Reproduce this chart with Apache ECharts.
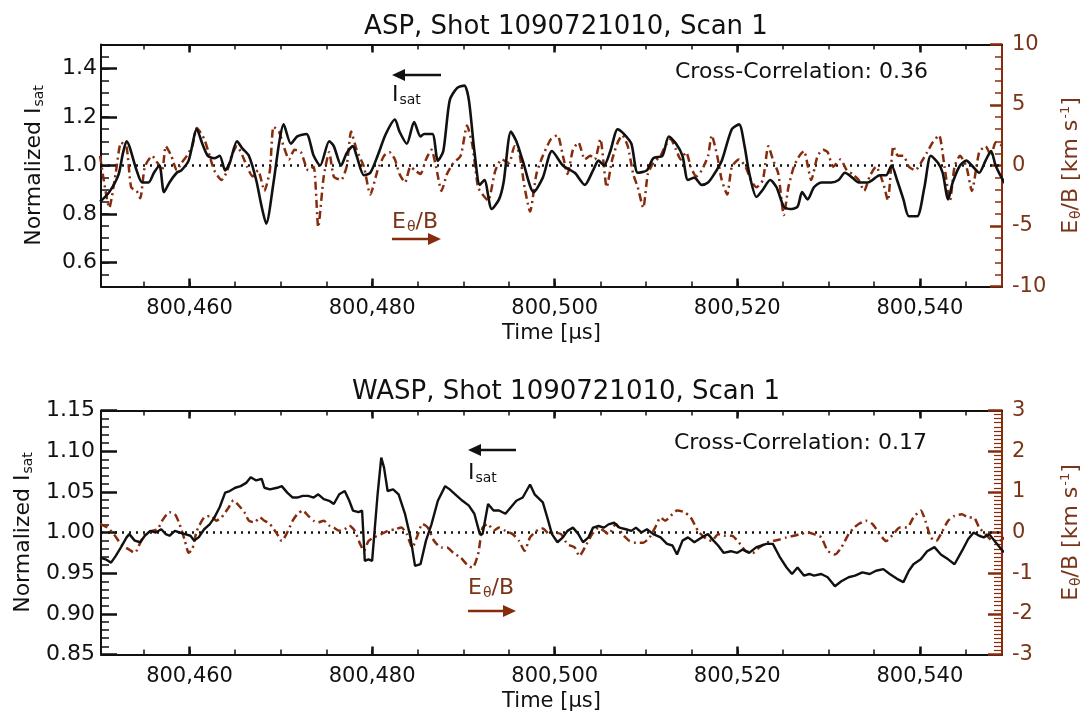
<!DOCTYPE html>
<html>
<head>
<meta charset="utf-8">
<script src="https://cdn.jsdelivr.net/npm/echarts@6/dist/echarts.min.js"></script>
<style>html,body{margin:0;padding:0;background:#fff}#c{width:1091px;height:719px}</style>
</head>
<body>
<div id="c"></div>
<script>
// ---------- DATA ----------
const titles = ['ASP, Shot 1090721010, Scan 1', 'WASP, Shot 1090721010, Scan 1'];
const crossCorr = ['Cross-Correlation: 0.36', 'Cross-Correlation: 0.17'];
const xRange = [800450.3, 800549.0];
const xTickLabels = [800460, 800480, 800500, 800520, 800540];
const xMinorTicks = [800455, 800460, 800465, 800470, 800475, 800480, 800485, 800490, 800495, 800500,
                     800505, 800510, 800515, 800520, 800525, 800530, 800535, 800540, 800545];
const aspLeftTickLabels = [0.6, 0.8, 1.0, 1.2, 1.4];
const refLevel = 1.0;

// ASP normalized Isat (black) [time us, value]
const aspIsat = [
[800450.2,0.85],[800451.2,0.89],[800452.2,0.96],[800452.7,1.05],[800453.1,1.10],[800454.2,0.98],[800454.8,0.93],[800455.5,0.93],
[800456.1,0.97],[800456.7,1.00],[800457.2,0.89],[800457.8,0.93],[800458.6,0.97],[800459.1,0.98],[800459.9,1.02],[800460.8,1.15],
[800461.4,1.09],[800462.0,1.04],[800462.7,1.03],[800463.3,1.04],[800463.9,0.98],[800464.4,1.01],[800465.2,1.10],[800465.8,1.07],
[800466.5,1.04],[800467.3,0.94],[800467.9,0.83],[800468.4,0.76],[800469.2,0.93],[800469.8,1.09],[800470.3,1.17],[800471.1,1.09],
[800471.8,1.12],[800472.8,1.13],[800473.6,1.04],[800474.3,1.00],[800475.3,1.10],[800475.8,1.08],[800476.6,1.00],[800477.2,1.05],
[800477.9,1.08],[800478.3,1.04],[800479.1,0.96],[800479.8,0.97],[800480.6,1.04],[800481.5,1.13],[800482.5,1.19],[800483.0,1.14],
[800483.8,1.09],[800484.6,1.18],[800485.3,1.12],[800485.7,1.13],[800486.6,1.13],[800487.2,1.02],[800487.8,1.06],[800488.5,1.27],
[800489.3,1.32],[800490.1,1.33],[800490.6,1.27],[800491.2,1.06],[800491.8,0.92],[800492.3,0.94],[800493.1,0.82],[800493.9,0.86],
[800494.4,0.93],[800495.2,1.14],[800495.8,1.10],[800496.5,1.02],[800497.7,0.89],[800498.7,0.95],[800499.7,1.06],[800500.9,1.00],
[800502.2,0.97],[800503.3,0.92],[800504.2,0.98],[800504.8,1.02],[800505.4,1.00],[800506.1,1.06],[800506.9,1.15],[800507.6,1.13],
[800508.4,1.09],[800509.1,0.97],[800510.1,0.98],[800510.8,1.03],[800511.8,1.04],[800512.5,1.12],[800513.3,1.09],[800514.0,1.04],
[800514.6,0.94],[800515.3,0.95],[800516.1,0.92],[800516.8,0.93],[800517.4,0.96],[800518.3,1.02],[800519.4,1.15],[800520.2,1.17],
[800520.8,1.08],[800521.3,0.97],[800522.1,0.87],[800522.8,0.90],[800523.6,0.94],[800524.3,0.91],[800525.1,0.83],[800525.8,0.82],
[800526.6,0.83],[800527.1,0.89],[800527.7,0.86],[800528.4,0.91],[800529.2,0.93],[800530.3,0.93],[800531.1,0.94],[800531.8,0.97],
[800532.6,0.95],[800533.3,0.93],[800534.3,0.93],[800534.8,0.94],[800535.6,0.96],[800536.3,0.96],[800536.9,1.00],[800537.5,0.94],
[800538.2,0.86],[800538.8,0.79],[800539.7,0.79],[800540.5,0.91],[800541.2,1.04],[800542.0,1.01],[800542.5,0.97],[800543.1,0.86],
[800543.6,0.93],[800544.4,1.00],[800545.1,1.02],[800545.7,1.00],[800546.5,0.97],[800547.2,1.02],[800547.8,1.06],[800548.3,1.00],
[800549.1,0.94],[800549.8,0.90]
];

// ASP E_theta/B (brown, km/s)
const aspEB = [
[800450.2,0.8],[800450.6,-1.2],[800451.2,-3.5],[800451.9,-0.7],[800452.5,1.9],[800453.1,1.5],[800453.6,-1.8],[800454.2,-2.1],
[800454.6,-2.7],[800455.1,-0.1],[800455.9,0.8],[800456.5,0.2],[800457.0,-0.4],[800457.4,1.6],[800458.0,0.8],[800458.6,-0.4],
[800459.1,0.2],[800459.7,0.8],[800460.3,1.6],[800460.8,3.1],[800461.6,2.2],[800462.2,0.8],[800462.7,-0.4],[800463.5,-1.2],
[800464.1,-0.5],[800464.6,0.8],[800465.2,1.6],[800465.8,0.8],[800466.3,-0.1],[800466.9,-0.9],[800467.5,-0.4],[800468.2,-2.1],
[800468.8,-0.4],[800469.2,3.2],[800469.8,2.8],[800470.3,1.6],[800470.9,0.5],[800471.5,1.3],[800472.2,1.1],[800473.0,-0.4],
[800473.6,-0.1],[800474.1,-5.1],[800474.7,-0.9],[800475.3,1.1],[800475.8,-0.9],[800476.6,-1.2],[800477.2,-0.1],[800477.7,2.8],
[800478.3,1.3],[800479.1,-0.1],[800479.8,-2.4],[800480.6,-0.4],[800481.3,0.8],[800481.9,1.1],[800482.5,0.5],[800483.0,-0.7],
[800483.6,-1.4],[800484.2,-0.1],[800484.7,-0.4],[800485.3,-0.7],[800485.9,0.5],[800486.5,1.3],[800487.0,-0.1],[800487.6,-2.1],
[800488.2,-0.7],[800488.9,0.2],[800489.7,0.8],[800490.4,3.3],[800491.0,1.6],[800491.6,-1.8],[800492.1,-2.4],[800492.7,-2.9],
[800493.5,-0.4],[800494.2,0.5],[800495.0,0.2],[800495.6,1.6],[800496.1,1.1],[800496.7,-1.8],[800497.3,-3.8],[800498.0,-0.7],
[800498.7,0.8],[800499.6,2.2],[800500.3,2.5],[800500.9,0.8],[800501.4,-0.7],[800502.0,1.3],[800502.6,1.9],[800503.3,0.5],
[800503.9,0.8],[800504.4,0.5],[800505.0,2.2],[800505.7,-1.8],[800506.3,0.5],[800506.9,1.9],[800507.4,2.5],[800508.0,1.6],
[800508.6,-0.7],[800509.1,-1.8],[800509.7,-3.5],[800510.2,-0.7],[800510.8,0.2],[800511.6,0.8],[800512.1,1.6],[800512.7,2.2],
[800513.3,1.3],[800513.8,0.5],[800514.4,1.1],[800514.9,-0.1],[800515.5,-0.9],[800516.1,-0.4],[800516.8,0.8],[800517.2,2.5],
[800517.8,0.8],[800518.3,-1.2],[800518.9,-2.4],[800519.4,-0.1],[800520.2,0.5],[800520.9,-0.1],[800521.5,-1.2],[800522.1,-1.8],
[800522.8,-1.2],[800523.4,1.6],[800523.9,0.5],[800524.5,-0.7],[800525.1,-4.1],[800525.6,-1.8],[800526.2,-0.1],[800526.8,0.8],
[800527.3,1.2],[800528.1,-1.2],[800528.8,0.8],[800529.4,1.3],[800529.9,1.1],[800530.5,-0.1],[800531.3,0.5],[800532.0,-0.4],
[800532.6,-0.7],[800533.3,-1.2],[800533.9,-2.1],[800534.5,-0.9],[800535.2,-0.1],[800536.0,-1.5],[800536.5,-2.9],[800537.1,1.6],
[800537.6,0.8],[800538.2,0.8],[800538.8,-0.1],[800539.5,-0.4],[800540.1,0.2],[800540.8,1.1],[800541.4,1.9],[800542.1,2.5],
[800542.7,-0.1],[800543.3,-2.9],[800543.8,-0.1],[800544.4,0.8],[800545.1,-0.1],[800545.7,-2.1],[800546.5,1.1],[800547.2,1.6],
[800547.8,0.8],[800548.3,1.9],[800549.1,1.6],[800549.8,1.3]
];

// WASP normalized Isat (black)
const waspIsat = [
[800450.2,0.969],[800450.8,0.967],[800451.4,0.963],[800451.9,0.971],[800452.5,0.982],[800453.1,0.994],[800453.4,0.998],[800454.0,0.990],
[800454.6,0.988],[800455.1,0.996],[800455.7,1.002],[800456.3,1.000],[800456.9,1.004],[800457.4,0.998],[800457.8,0.996],[800458.4,1.002],
[800458.9,1.000],[800459.5,0.998],[800460.1,0.996],[800460.5,0.990],[800461.0,0.994],[800461.6,1.004],[800462.2,1.010],[800462.7,1.018],
[800463.3,1.031],[800463.9,1.049],[800464.4,1.051],[800465.0,1.055],[800465.6,1.057],[800466.2,1.061],[800466.7,1.068],[800467.3,1.064],
[800467.9,1.066],[800468.2,1.055],[800468.8,1.053],[800469.6,1.055],[800470.1,1.057],[800470.7,1.049],[800471.3,1.043],[800471.8,1.043],
[800472.4,1.045],[800473.0,1.045],[800473.6,1.043],[800474.1,1.047],[800474.7,1.041],[800475.3,1.039],[800475.8,1.035],[800476.4,1.047],
[800477.0,1.051],[800477.5,1.039],[800477.9,1.027],[800478.5,1.025],[800478.9,1.027],[800479.2,0.965],[800479.6,0.967],[800480.0,0.965],
[800480.6,1.047],[800481.0,1.092],[800481.3,1.080],[800481.7,1.051],[800482.3,1.053],[800482.9,1.047],[800483.6,1.023],[800484.2,0.994],
[800484.7,0.959],[800485.3,0.961],[800485.9,0.990],[800486.5,1.010],[800487.2,1.039],[800488.0,1.057],[800488.5,1.053],[800489.1,1.047],
[800489.9,1.039],[800490.6,1.033],[800491.2,1.023],[800491.8,0.998],[800492.1,0.998],[800492.7,1.035],[800493.3,1.027],[800493.9,1.027],
[800494.6,1.023],[800495.2,1.031],[800495.8,1.039],[800496.5,1.043],[800497.3,1.059],[800497.8,1.047],[800498.7,1.037],[800499.2,1.018],
[800499.7,0.998],[800500.3,0.988],[800500.9,0.994],[800501.4,1.002],[800502.0,1.006],[800502.6,0.998],[800503.1,0.988],[800503.7,0.994],
[800504.2,1.006],[800504.8,1.008],[800505.4,1.006],[800505.9,1.010],[800506.5,1.012],[800507.1,1.006],[800507.8,1.004],[800508.4,1.002],
[800508.9,1.006],[800509.5,1.000],[800510.1,1.004],[800510.8,0.998],[800511.6,0.994],[800512.3,0.986],[800512.9,0.984],[800513.4,0.973],
[800514.0,0.990],[800514.6,0.994],[800515.3,0.988],[800516.1,0.994],[800516.8,0.998],[800517.4,0.990],[800517.9,0.984],[800518.5,0.975],
[800519.3,0.977],[800520.0,0.975],[800520.6,0.979],[800521.3,0.975],[800522.1,0.982],[800523.2,0.986],[800523.9,0.986],[800524.7,0.969],
[800525.4,0.957],[800526.0,0.949],[800526.6,0.957],[800527.3,0.947],[800527.9,0.949],[800528.4,0.947],[800529.2,0.949],[800529.9,0.945],
[800530.7,0.934],[800531.4,0.940],[800532.2,0.945],[800532.9,0.947],[800533.7,0.951],[800534.5,0.949],[800535.2,0.953],[800536.0,0.955],
[800536.7,0.949],[800537.5,0.943],[800538.2,0.939],[800538.8,0.953],[800539.3,0.961],[800540.1,0.967],[800540.8,0.977],[800541.6,0.982],
[800542.3,0.973],[800543.1,0.967],[800543.8,0.961],[800544.6,0.977],[800545.3,0.992],[800545.9,1.000],[800546.5,0.996],[800547.0,0.994],
[800547.6,0.998],[800548.3,0.988],[800549.1,0.977],[800549.8,0.973]
];

// WASP E_theta/B (brown, km/s)
const waspEB = [
[800450.2,0.21],[800451.0,0.12],[800451.7,-0.04],[800452.5,-0.29],[800453.3,-0.41],[800454.0,-0.50],[800454.6,-0.25],[800455.1,-0.04],
[800455.9,0.04],[800456.5,0.08],[800457.0,0.29],[800457.8,0.50],[800458.4,0.45],[800458.9,0.21],[800459.5,-0.21],[800459.9,-0.50],
[800460.3,-0.41],[800460.8,0.04],[800461.6,0.37],[800462.4,0.41],[800462.9,0.29],[800463.5,0.37],[800464.3,0.62],[800464.8,0.79],
[800465.4,0.66],[800466.0,0.50],[800466.5,0.29],[800467.1,0.25],[800467.7,0.37],[800468.2,0.29],[800468.8,0.21],[800469.6,-0.04],
[800470.1,-0.21],[800470.7,0.00],[800471.3,0.29],[800471.8,0.45],[800472.4,0.54],[800473.0,0.41],[800473.6,0.29],[800474.1,0.25],
[800474.7,0.29],[800475.3,0.17],[800475.8,0.12],[800476.4,0.04],[800477.0,0.08],[800477.5,0.17],[800478.1,0.04],[800478.7,-0.29],
[800479.1,-0.45],[800479.6,-0.21],[800480.2,-0.12],[800481.0,-0.04],[800481.7,0.04],[800482.5,0.08],[800483.2,0.12],[800483.8,-0.04],
[800484.4,-0.37],[800484.9,-0.12],[800485.5,0.21],[800486.1,0.12],[800486.8,-0.21],[800487.6,-0.37],[800488.2,-0.37],[800488.9,-0.50],
[800489.7,-0.62],[800490.4,-0.79],[800491.0,-0.87],[800491.6,-0.54],[800492.1,0.12],[800492.7,0.21],[800493.3,0.04],[800493.9,0.12],
[800494.6,0.04],[800495.4,-0.04],[800496.1,-0.21],[800496.7,-0.45],[800497.3,-0.12],[800498.0,0.04],[800498.7,0.10],[800499.4,-0.04],
[800499.9,0.00],[800500.7,-0.04],[800501.4,-0.29],[800502.2,-0.37],[800502.7,-0.58],[800503.3,-0.37],[800504.1,-0.04],[800504.8,0.12],
[800505.4,0.04],[800505.9,-0.04],[800506.7,0.21],[800507.4,-0.04],[800508.2,-0.21],[800508.9,-0.25],[800509.7,-0.25],[800510.4,-0.12],
[800511.0,0.12],[800511.6,0.37],[800512.1,0.29],[800512.9,0.45],[800513.4,0.54],[800514.2,0.50],[800514.9,0.37],[800515.7,0.04],
[800516.4,-0.12],[800517.2,-0.21],[800517.9,-0.04],[800518.7,-0.08],[800519.4,-0.08],[800520.2,-0.25],[800520.9,-0.45],[800521.7,-0.50],
[800522.4,-0.37],[800523.2,-0.25],[800523.9,-0.21],[800524.7,-0.17],[800525.4,-0.12],[800526.2,-0.08],[800526.9,-0.04],[800527.7,0.00],
[800528.4,-0.04],[800529.2,-0.12],[800529.9,-0.45],[800530.7,-0.54],[800531.4,-0.37],[800532.2,-0.04],[800532.8,0.12],[800533.3,0.21],
[800534.1,0.29],[800534.8,0.21],[800535.6,-0.04],[800536.3,-0.21],[800537.1,-0.04],[800537.8,0.12],[800538.6,0.12],[800539.3,0.37],
[800540.1,0.54],[800540.6,0.29],[800541.2,-0.12],[800541.8,-0.21],[800542.3,-0.04],[800543.1,0.29],[800543.8,0.41],[800544.6,0.45],
[800545.3,0.37],[800545.9,0.37],[800546.5,0.12],[800547.2,-0.04],[800548.0,-0.21],[800548.7,-0.21],[800549.3,-0.12]
];

// ---------- STYLE ----------
const FONT = '"DejaVu Sans", "Liberation Sans", Arial, sans-serif';
const BROWN = '#862c0d';
const BROWN_TXT = '#7a3418';
const BLACK = '#111';
const G = [{left: 101, right: 83, top: 44.5, height: 242}, {left: 101, right: 83, top: 410.5, height: 244}];

function fmtThousands(v) {
  const s = String(Math.round(v));
  return s.slice(0, s.length - 3) + ',' + s.slice(s.length - 3);
}
function richFor(color) {
  return {
    s: {fontSize: 14, fontFamily: FONT, color: color, verticalAlign: 'bottom', lineHeight: 10, padding: [0, 0, 0, 1]},
    u: {fontSize: 13, fontFamily: FONT, color: color, verticalAlign: 'top', lineHeight: 10, padding: [0, 0, 0, 1]}
  };
}

function xAxes(gi) {
  const base = {type: 'value', gridIndex: gi, min: xRange[0], max: xRange[1], splitLine: {show: false}};
  return [
    Object.assign({}, base, {
      position: 'bottom',
      axisLine: {show: true, onZero: false, lineStyle: {color: BLACK, width: 2}},
      axisTick: {show: true, inside: true, length: 5, customValues: xMinorTicks, lineStyle: {color: BLACK, width: 1.5}},
      axisLabel: {show: true, customValues: xTickLabels, formatter: fmtThousands, margin: 12,
                  color: BLACK, fontSize: 21, fontFamily: FONT},
      name: 'Time [µs]', nameLocation: 'middle', nameGap: 37,
      nameTextStyle: {color: BLACK, fontSize: 21, fontFamily: FONT}
    }),
    Object.assign({}, base, {
      position: 'top',
      axisLine: {show: true, onZero: false, lineStyle: {color: BLACK, width: 2}},
      axisTick: {show: true, inside: true, length: 5, customValues: xMinorTicks, lineStyle: {color: BLACK, width: 1.5}},
      axisLabel: {show: false}
    }),
    Object.assign({}, base, {
      position: 'bottom', axisLine: {show: false, onZero: false}, axisLabel: {show: false},
      axisTick: {show: true, inside: true, length: 8, customValues: xTickLabels, lineStyle: {color: BLACK, width: 2.5}}
    }),
    Object.assign({}, base, {
      position: 'top', axisLine: {show: false, onZero: false}, axisLabel: {show: false},
      axisTick: {show: true, inside: true, length: 8, customValues: xTickLabels, lineStyle: {color: BLACK, width: 2.5}}
    })
  ];
}

const leftName = {
  name: 'Normalized I{s|sat}', nameLocation: 'middle', nameRotate: 90, nameGap: 55,
  nameTextStyle: {color: BLACK, fontSize: 22, fontFamily: FONT, lineHeight: 24, rich: richFor(BLACK)}
};
const rightName = {
  name: 'E{s|θ}/B [km s{u|-1}]', nameLocation: 'middle', nameRotate: 90, nameGap: 57,
  nameTextStyle: {color: BROWN_TXT, fontSize: 22, fontFamily: FONT, lineHeight: 24, rich: richFor(BROWN_TXT)}
};

const yAxes = [
  Object.assign({
    type: 'value', gridIndex: 0, position: 'left', min: 0.5, max: 1.5, interval: 0.05,
    splitLine: {show: false},
    axisLine: {show: true, onZero: false, lineStyle: {color: BLACK, width: 2}},
    axisTick: {show: true, inside: true, length: 8, lineStyle: {color: BLACK, width: 1.5}},
    axisLabel: {show: true, customValues: aspLeftTickLabels, formatter: v => v.toFixed(1), margin: 4,
                color: BLACK, fontSize: 22, fontFamily: FONT}
  }, leftName),
  {
    type: 'value', gridIndex: 0, position: 'left', min: 0.5, max: 1.5, interval: 0.05,
    splitLine: {show: false}, axisLine: {show: false, onZero: false}, axisLabel: {show: false},
    axisTick: {show: true, inside: true, length: 16, customValues: aspLeftTickLabels, lineStyle: {color: BLACK, width: 2.5}}
  },
  Object.assign({
    type: 'value', gridIndex: 0, position: 'right', min: -10, max: 10, interval: 5,
    splitLine: {show: false},
    axisLine: {show: true, onZero: false, lineStyle: {color: BROWN, width: 2}},
    axisTick: {show: true, inside: true, length: 12, lineStyle: {color: BROWN, width: 2.5}},
    minorTick: {show: true, splitNumber: 5, length: 7, lineStyle: {color: BROWN, width: 1.5}},
    axisLabel: {show: true, margin: 10, color: BROWN_TXT, fontSize: 21, fontFamily: FONT}
  }, rightName),
  Object.assign({
    type: 'value', gridIndex: 1, position: 'left', min: 0.85, max: 1.15, interval: 0.05,
    splitLine: {show: false},
    axisLine: {show: true, onZero: false, lineStyle: {color: BLACK, width: 2}},
    axisTick: {show: true, inside: true, length: 16, lineStyle: {color: BLACK, width: 2.5}},
    minorTick: {show: true, splitNumber: 5, length: 8, lineStyle: {color: BLACK, width: 1.5}},
    axisLabel: {show: true, formatter: v => v.toFixed(2), margin: 6, color: BLACK, fontSize: 22, fontFamily: FONT}
  }, leftName),
  Object.assign({
    type: 'value', gridIndex: 1, position: 'right', min: -3, max: 3, interval: 1,
    splitLine: {show: false},
    axisLine: {show: true, onZero: false, lineStyle: {color: BROWN, width: 2}},
    axisTick: {show: true, inside: true, length: 14, lineStyle: {color: BROWN, width: 2.5}},
    minorTick: {show: true, splitNumber: 10, length: 8, lineStyle: {color: BROWN, width: 1.2}},
    axisLabel: {show: true, margin: 10, color: BROWN_TXT, fontSize: 21, fontFamily: FONT}
  }, rightName)
];

const dotted = {color: BLACK, width: 2.4, type: [2, 5]};
const series = [
  {type: 'line', name: 'ASP ref', xAxisIndex: 0, yAxisIndex: 0, data: [[xRange[0], refLevel], [xRange[1], refLevel]],
   symbol: 'none', lineStyle: dotted, silent: true, z: 1},
  {type: 'line', name: 'ASP Eθ/B', xAxisIndex: 0, yAxisIndex: 2, data: aspEB, symbol: 'none', smooth: 0.2,
   lineStyle: {color: BROWN, width: 2.5, type: [8, 4, 2, 4]}, z: 2},
  {type: 'line', name: 'ASP Isat', xAxisIndex: 0, yAxisIndex: 0, data: aspIsat, symbol: 'none', smooth: 0.25,
   lineStyle: {color: BLACK, width: 2.6}, z: 3},
  {type: 'line', name: 'WASP ref', xAxisIndex: 4, yAxisIndex: 3, data: [[xRange[0], refLevel], [xRange[1], refLevel]],
   symbol: 'none', lineStyle: dotted, silent: true, z: 1},
  {type: 'line', name: 'WASP Eθ/B', xAxisIndex: 4, yAxisIndex: 4, data: waspEB, symbol: 'none', smooth: 0.2,
   lineStyle: {color: BROWN, width: 2.5, type: [8, 4, 2, 4]}, z: 2},
  {type: 'line', name: 'WASP Isat', xAxisIndex: 4, yAxisIndex: 3, data: waspIsat, symbol: 'none',
   lineStyle: {color: BLACK, width: 2.4}, z: 3}
];

// annotations (pixel layout)
function arrow(x1, x2, y, color) {
  const dir = x2 > x1 ? 1 : -1;
  const back = x2 - dir * 13;
  return [
    {type: 'line', shape: {x1: x1, y1: y, x2: back, y2: y}, style: {stroke: color, lineWidth: 2.5}},
    {type: 'polygon', shape: {points: [[x2, y], [back, y - 6], [back, y + 6]]}, style: {fill: color}}
  ];
}
function txt(x, y, text, color) {
  return {type: 'text', left: x, top: y,
    style: {text: text, fill: color, fontSize: 22, fontFamily: FONT, lineHeight: 24,
      rich: {s: {fontSize: 14, fontFamily: FONT, fill: color, verticalAlign: 'bottom', lineHeight: 10, padding: [0,0,0,1]}}}};
}

const graphic = [].concat(
  arrow(441, 392, 75, BLACK),
  [txt(392, 83, 'I{s|sat}', BLACK)],
  [txt(392, 210, 'E{s|θ}/B', BROWN_TXT)],
  arrow(392, 441, 239, BROWN),
  [txt(675, 60, crossCorr[0], BLACK)],
  arrow(516, 468, 450, BLACK),
  [txt(468, 461, 'I{s|sat}', BLACK)],
  [txt(468, 576, 'E{s|θ}/B', BROWN_TXT)],
  arrow(468, 516, 611, BROWN),
  [txt(674, 431, crossCorr[1], BLACK)]
);

const chart = echarts.init(document.getElementById('c'), null, {renderer: 'canvas'});
chart.setOption({
  animation: false,
  backgroundColor: '#fff',
  title: [
    {text: titles[0], left: 561, textAlign: 'center', top: 9, textStyle: {fontSize: 26, fontWeight: 'normal', color: BLACK, fontFamily: FONT}},
    {text: titles[1], left: 561, textAlign: 'center', top: 374, textStyle: {fontSize: 26, fontWeight: 'normal', color: BLACK, fontFamily: FONT}}
  ],
  grid: G,
  xAxis: [].concat(xAxes(0), xAxes(1)),
  yAxis: yAxes,
  series: series,
  graphic: graphic
});
</script>
</body>
</html>
